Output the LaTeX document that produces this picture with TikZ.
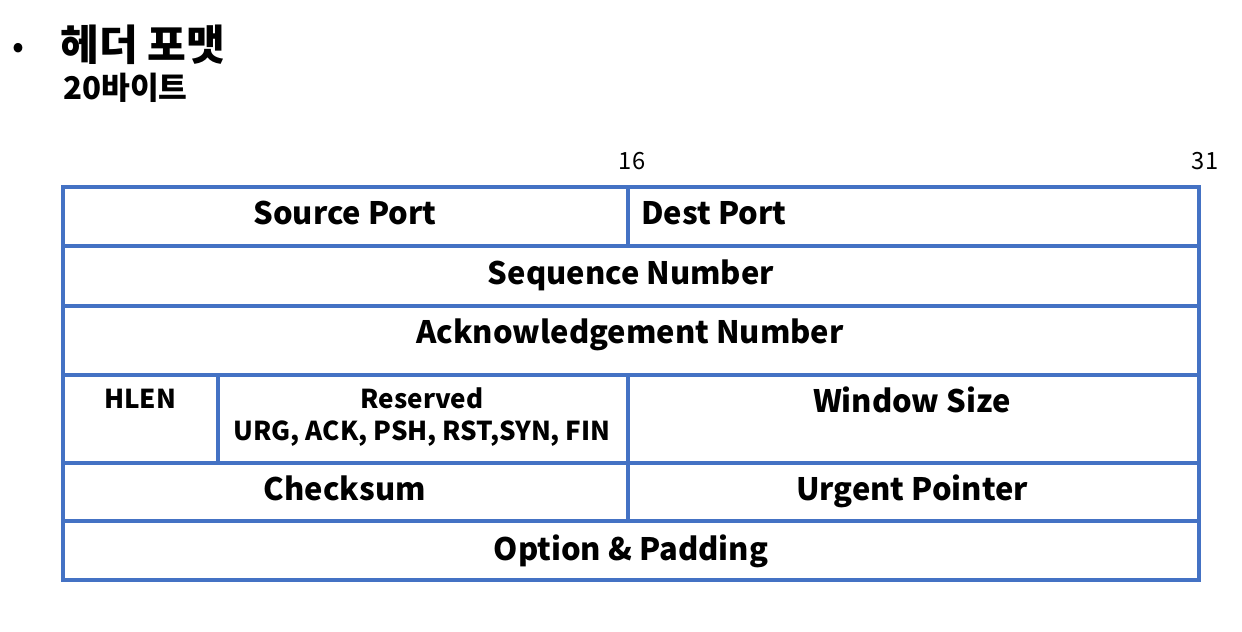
\documentclass[tikz,border=0pt]{standalone}
\usepackage{fontspec}
\setmainfont{Noto Sans CJK KR}
\usetikzlibrary{positioning}
\definecolor{fieldblue}{HTML}{4472C4}
\tikzset{
	field/.style={anchor=base, inner sep=0pt, font=\fontsize{17.6}{20}\selectfont\bfseries},
	small field/.style={anchor=base, inner sep=0pt, font=\fontsize{14.8}{17}\selectfont\bfseries},
	bitnum/.style={anchor=base, inner sep=0pt, font=\fontsize{13.5}{16}\selectfont},
	grid line/.style={draw=fieldblue, line width=2.3pt}
}

\begin{document}
\begin{tikzpicture}[x=0.02cm, y=-0.02cm]
	\useasboundingbox (0,0) rectangle (1242,632);
	% Title:
	\node[anchor=base, inner sep=0pt, font=\fontsize{20}{22}\selectfont] (bullet) at (18,58) {•};
	\node[anchor=base west, inner sep=0pt, font=\fontsize{24}{28}\selectfont\bfseries] (title) at (60,60) {헤더 포맷};
	\node[anchor=base west, inner sep=0pt, font=\fontsize{17.8}{20}\selectfont\bfseries] (size) at (63,99) {20바이트};
	% Bit positions:
	\node[bitnum] (b16) at (632,169) {16};
	\node[bitnum] (b31) at (1205,169) {31};
	% Rows and columns of the header
	\draw[grid line] (63,187) rectangle (1199,580);
	\foreach \y in {246, 306, 375, 463, 521}
		\draw[grid line] (63,\y) -- (1199,\y);
	\draw[grid line] (628,187) -- (628,246);
	\draw[grid line] (628,375) -- (628,521);
	\draw[grid line] (218,375) -- (218,463);
	% Field names:
	\node[field] (src) at (345,224) {Source Port};
	\node[field, anchor=base west] (dst) at (641,224) {Dest Port};
	\node[field] (seq) at (631,284) {Sequence Number};
	\node[field] (ack) at (630,343) {Acknowledgement Number};
	\node[small field] (hlen) at (140,408) {HLEN};
	\node[small field] (rsv) at (422,408) {Reserved};
	\node[small field] (flags) at (422,440) {URG, ACK, PSH, RST,SYN, FIN};
	\node[field] (win) at (912,412) {Window Size};
	\node[field] (chk) at (345,500) {Checksum};
	\node[field] (urg) at (912,500) {Urgent Pointer};
	\node[field] (opt) at (631,560) {Option \& Padding};
\end{tikzpicture}
\end{document}
